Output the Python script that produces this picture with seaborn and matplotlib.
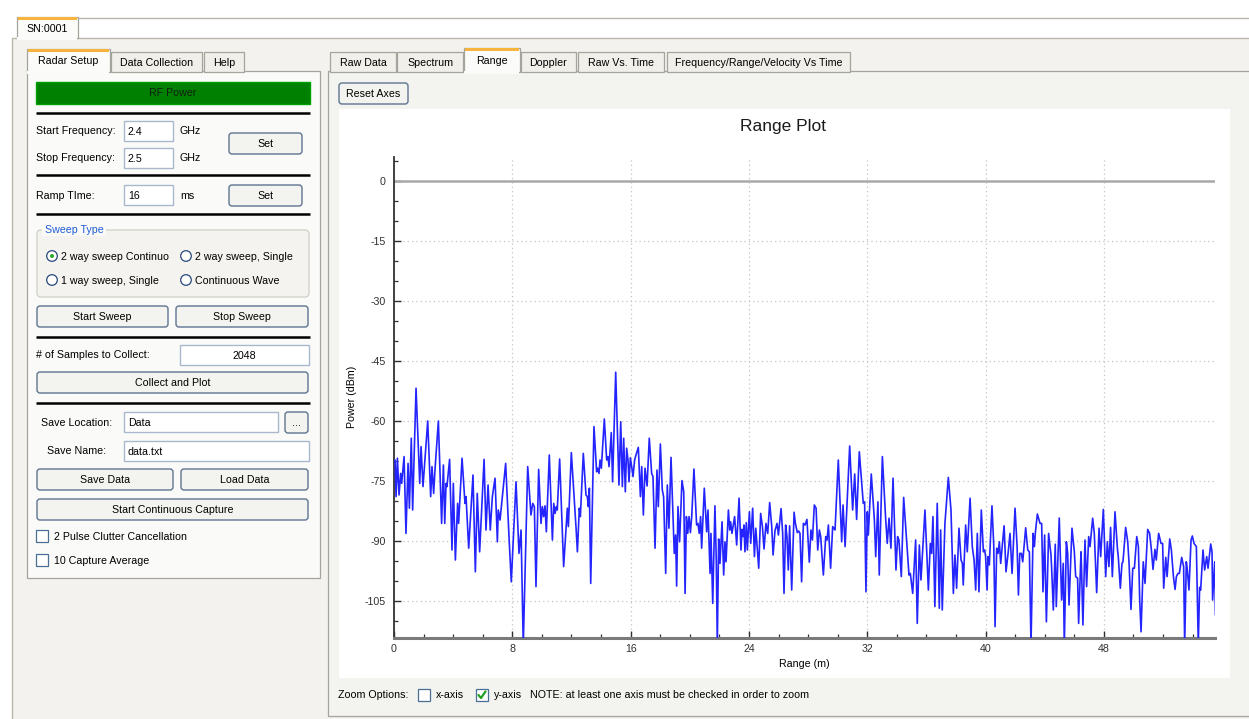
import numpy as np
import pandas as pd
import matplotlib
matplotlib.use("Agg")
import matplotlib.pyplot as plt
import seaborn as sns
from matplotlib.patches import Rectangle, FancyBboxPatch, Circle
from matplotlib.ticker import MultipleLocator

# ---------------- data ----------------
range_m = [
    0.07, 0.14, 0.23, 0.34, 0.45, 0.52, 0.68, 0.81, 0.95, 1.04, 1.17, 1.26, 1.49, 1.74, 1.83, 1.96,
    2.28, 2.48, 2.57, 2.68, 2.77, 3.00, 3.22, 3.34, 3.43, 3.52, 3.58, 3.76, 3.92, 4.01, 4.15, 4.30,
    4.37, 4.60, 4.80, 4.87, 5.05, 5.34, 5.50, 5.63, 5.79, 6.09, 6.22, 6.36, 6.51, 6.65, 6.83, 6.99,
    7.05, 7.17, 7.55, 7.78, 7.93, 8.25, 8.45, 8.59, 8.74,
    9.04, 9.26, 9.38, 9.49, 9.60, 9.78, 9.94, 10.03, 10.12, 10.21, 10.30, 10.50, 10.71, 10.80, 10.89,
    10.98, 11.04, 11.20, 11.47, 11.72, 11.79, 11.99, 12.31, 12.40, 12.53, 12.60, 12.80, 12.98, 13.07,
    13.14, 13.21, 13.30, 13.52, 13.70, 13.77, 13.86, 13.93, 14.02, 14.22, 14.38, 14.47, 14.54, 14.69,
    14.78, 14.99, 15.21, 15.33, 15.44, 15.53, 15.64, 15.73, 15.82, 15.89, 15.98, 16.07, 16.16, 16.27,
    16.36, 16.52, 16.66, 16.75, 16.86, 16.97, 17.11, 17.26, 17.42, 17.51, 17.65, 17.78, 17.87, 18.01,
    18.14, 18.23, 18.37, 18.48,
    18.59, 18.73, 18.95, 19.04, 19.11, 19.20, 19.31, 19.47, 19.59, 19.68, 19.77, 19.86, 19.95, 20.04,
    20.13, 20.28, 20.46, 20.55, 20.64, 20.73, 20.80, 20.98, 21.14, 21.23, 21.37, 21.43, 21.55, 21.70,
    21.79, 21.86, 21.95, 22.04, 22.18, 22.29, 22.38, 22.45, 22.61, 22.70, 22.76, 22.85, 23.03, 23.17,
    23.33, 23.46, 23.53, 23.60, 23.66, 23.73, 23.82, 23.89, 24.03, 24.12, 24.25, 24.37, 24.46, 24.55,
    24.66, 24.79, 24.91, 25.02, 25.15, 25.27, 25.40, 25.54, 25.63, 25.76, 25.90, 25.99, 26.17, 26.28,
    26.37, 26.48, 26.57, 26.66, 26.75, 26.89, 27.05, 27.14, 27.27, 27.36, 27.45, 27.56, 27.68, 27.79,
    27.92, 28.08,
    28.19, 28.29, 28.42, 28.54, 28.65, 28.76, 28.85, 29.03, 29.19, 29.28, 29.37, 29.52, 29.66, 29.82,
    30.04, 30.27, 30.36, 30.50, 30.81, 31.01, 31.15, 31.28, 31.46, 31.73, 31.82, 31.91, 32.00, 32.07,
    32.27, 32.48, 32.57, 32.72, 32.81, 33.02, 33.24, 33.35, 33.47, 33.60, 33.74, 33.94, 34.05, 34.14,
    34.30, 34.46, 34.82, 34.91, 35.07, 35.27, 35.38, 35.52, 35.63, 35.90, 36.13, 36.26, 36.35, 36.44,
    36.57, 36.73, 36.87, 36.96, 37.07, 37.25, 37.48,
    37.66, 37.82, 37.93, 38.04, 38.20, 38.34, 38.43, 38.49, 38.65, 38.76, 38.95, 39.10, 39.22, 39.33,
    39.44, 39.55, 39.71, 39.85, 39.94, 40.00, 40.10, 40.16, 40.25, 40.43, 40.55, 40.64, 40.75, 40.84,
    40.93, 41.02, 41.25, 41.38, 41.52, 41.65, 41.79, 41.99, 42.13, 42.22, 42.31, 42.42, 42.51, 42.71,
    42.85, 42.96, 43.07, 43.21, 43.30, 43.36, 43.50, 43.68, 43.79, 43.88, 43.99, 44.11, 44.26, 44.42,
    44.46, 44.58, 44.71, 44.78, 44.98, 45.14, 45.25, 45.32, 45.46, 45.55, 45.64, 45.84, 46.00, 46.09,
    46.22, 46.29, 46.45, 46.49, 46.58, 46.72, 46.83,
    46.97, 47.06, 47.24, 47.35, 47.51, 47.67, 47.78, 47.96, 48.12, 48.23, 48.34, 48.45, 48.57, 48.75,
    48.91, 48.97, 49.11, 49.22, 49.29, 49.47, 49.61, 49.70, 49.83, 49.95, 50.06, 50.22, 50.33, 50.42,
    50.51, 50.66, 50.78, 50.96, 51.09, 51.21, 51.32, 51.45, 51.54, 51.70, 51.86, 51.97, 52.04, 52.18,
    52.27, 52.45, 52.56, 52.70, 52.81, 52.90, 53.01, 53.10, 53.26, 53.39, 53.46, 53.57, 53.64, 53.75,
    53.89, 53.98, 54.09, 54.25, 54.38, 54.47, 54.54, 54.70, 54.81, 54.95, 55.04, 55.22, 55.31, 55.35,
    55.49, 55.54,
]
power_dbm = [
    -69.75, -78.9, -69.3, -78.5, -73.1, -75.6, -68.9, -88.1, -70.6, -81.8, -64.3, -82.25, -51.8, -75.6, -66.4, -76.4,
    -60.0, -78.9, -71.4, -78.1, -72.25, -60.0, -85.6, -71.0, -85.6, -75.6, -76.4, -69.6, -92.25, -75.6, -94.75, -80.6,
    -85.6, -69.3, -80.6, -78.9, -91.8, -73.5, -97.7, -78.1, -92.7, -69.6, -87.25, -76.0, -87.25, -78.9, -74.3, -90.2,
    -82.25, -84.75, -70.6, -89.3, -100.2, -75.2, -93.1, -87.25, -116.0,
    -71.4, -83.5, -80.6, -81.4, -101.4, -72.1, -85.6, -81.4, -83.9, -81.2, -87.7, -68.5, -89.75, -80.6, -83.1,
    -81.4, -82.25, -69.5, -96.4, -81.8, -86.4, -67.9, -86.8, -92.7, -81.8, -83.9, -68.1, -78.5, -78.9,
    -81.4, -76.8, -100.6, -61.4, -72.7, -71.8, -73.1, -69.75, -71.8, -59.5, -69.75, -68.9, -71.4, -62.9,
    -75.2, -47.8, -76.0, -60.2, -76.4, -64.3, -77.7, -66.8, -69.75, -75.2, -69.2, -71.4, -73.9, -69.75,
    -68.5, -66.6, -78.9, -71.4, -83.5, -71.8, -76.25, -64.3, -73.1, -73.9, -91.8, -72.25, -81.4, -65.75,
    -77.25, -78.9, -98.1, -76.0,
    -86.8, -69.1, -93.1, -88.5, -101.25, -81.4, -90.2, -74.9, -77.7, -103.1, -83.9, -88.1, -83.9, -87.9,
    -83.9, -72.0, -86.0, -85.6, -88.1, -83.9, -91.8, -76.8, -87.7, -82.25, -98.1, -88.1, -105.6, -81.2,
    -94.75, -116.0, -89.5, -95.6, -85.2, -98.5, -90.2, -95.2, -82.25, -87.25, -85.2, -88.1, -83.9, -91.0,
    -79.3, -92.25, -87.1, -88.9, -86.0, -92.7, -85.4, -92.25, -82.7, -90.6, -81.8, -93.9, -86.8, -91.4,
    -96.8, -83.1, -86.4, -92.0, -85.6, -88.1, -80.4, -86.4, -93.5, -87.4, -85.6, -88.5, -81.9, -88.1,
    -103.1, -86.0, -88.9, -97.25, -86.2, -102.25, -82.8, -85.6, -87.9, -87.5, -88.1, -100.2, -85.6, -86.0,
    -84.6, -95.3,
    -87.25, -89.75, -81.0, -81.8, -92.25, -87.25, -88.9, -98.5, -88.9, -89.75, -86.0, -96.8, -86.4, -87.25,
    -69.75, -90.2, -81.0, -91.4, -66.25, -82.25, -73.25, -84.6, -67.7, -80.6, -80.2, -102.7, -82.7, -88.5,
    -73.25, -84.75, -93.9, -80.2, -98.5, -68.9, -84.3, -90.6, -84.3, -91.8, -74.3, -97.25, -88.9, -89.75,
    -98.9, -79.1, -98.5, -98.1, -103.1, -89.75, -110.6, -91.0, -99.75, -82.25, -102.25, -90.6, -93.1, -83.9,
    -106.4, -80.6, -106.8, -87.25, -107.25, -85.6, -74.1,
    -82.25, -103.1, -93.5, -101.8, -86.8, -94.75, -95.6, -101.0, -86.0, -92.7, -79.3, -91.4, -94.75, -102.25,
    -88.1, -102.7, -82.25, -92.7, -92.25, -93.9, -102.25, -93.9, -96.0, -81.2, -91.0, -111.4, -91.8, -93.1,
    -90.2, -95.6, -86.2, -97.7, -93.1, -88.1, -98.1, -81.8, -91.4, -103.5, -93.1, -93.1, -95.2, -86.7,
    -92.25, -92.7, -116.0, -88.1, -91.4, -88.1, -83.25, -85.6, -85.6, -102.7, -88.5, -110.2, -88.1, -93.5,
    -96.4, -107.25, -90.8, -106.4, -84.25, -104.75, -95.6, -116.0, -90.2, -93.1, -106.0, -86.8, -92.7, -98.9,
    -99.3, -110.6, -92.7, -97.25, -111.0, -89.75, -101.4,
    -88.9, -91.4, -84.3, -88.1, -102.9, -86.8, -93.9, -82.1, -98.9, -90.2, -96.4, -86.6, -98.9, -82.7,
    -91.8, -93.9, -101.8, -95.6, -95.2, -86.6, -90.2, -95.6, -107.1, -96.8, -96.8, -88.9, -91.4, -104.75,
    -112.7, -95.2, -100.6, -87.1, -88.1, -92.25, -97.1, -92.1, -94.75, -88.1, -90.6, -90.6, -101.8, -94.1,
    -98.9, -89.5, -92.25, -98.9, -102.1, -98.9, -98.1, -98.1, -94.1, -96.4, -116.0, -95.2, -97.25, -102.25,
    -89.75, -88.75, -90.6, -91.4, -116.0, -101.6, -102.25, -92.25, -97.25, -93.9, -96.8, -90.75, -92.7, -104.75,
    -95.2, -108.5,
]
x_ticks = [0, 8, 16, 24, 32, 40, 48]
y_ticks = [0, -15, -30, -45, -60, -75, -90, -105]

df = pd.DataFrame({"Range (m)": range_m, "Power (dBm)": power_dbm})

# ---------------- figure ----------------
sns.set_theme(style="white")
plt.rcParams['font.family'] = ['Liberation Sans', 'DejaVu Sans']
plt.rcParams['axes.unicode_minus'] = False

W, H = 1249, 719
fig = plt.figure(figsize=(W / 100, H / 100), dpi=100, facecolor='#FFFFFF')
bg = fig.add_axes([0, 0, 1, 1])
bg.set_xlim(0, W)
bg.set_ylim(H, 0)
bg.axis('off')

FS = 7.7
TXT = '#000000'


def rect(x0, y0, x1, y1, fc, ec='none', lw=1.0, z=1):
    bg.add_patch(Rectangle((x0, y0), x1 - x0, y1 - y0, fc=fc, ec=ec, lw=lw, zorder=z))


def label(x, y, s, ha='left', color=TXT, fs=FS, z=5, **kw):
    bg.text(x, y, s, ha=ha, va='center', color=color, fontsize=fs, zorder=z, **kw)


def button(x0, y0, x1, y1, s):
    bg.add_patch(FancyBboxPatch((x0, y0), x1 - x0, y1 - y0,
                                boxstyle='round,pad=0,rounding_size=3',
                                fc='#F3F3EF', ec='#5E7491', lw=1.0, zorder=3))
    label((x0 + x1) / 2, (y0 + y1) / 2 + 0.5, s, ha='center')


def entry(x0, y0, x1, y1, s, ha='left'):
    rect(x0, y0, x1, y1, '#FFFFFF', '#A9B8CC', 1.0, z=3)
    if ha == 'left':
        label(x0 + 4, (y0 + y1) / 2 + 1, s)
    else:
        label((x0 + x1) / 2, (y0 + y1) / 2 + 1, s, ha='center')


def tab(x0, x1, y0, y1, s, selected=False):
    fc = '#FBFBF9' if selected else '#F0EFEA'
    rect(x0, y0, x1, y1, fc, '#A5A49C', 0.9, z=2)
    if selected:
        rect(x0 + 1, y0, x1 - 1, y0 + 2.5, '#F6B33D', z=3)
        rect(x0 + 0.5, y1 - 1.5, x1 - 0.5, y1 + 1.5, fc, z=3)
    label((x0 + x1) / 2, (y0 + y1) / 2 + 1, s, ha='center')


def hline(x0, x1, y, color='#000000', lw=1.8):
    bg.plot([x0, x1], [y, y], color=color, lw=lw, zorder=3, solid_capstyle='butt')


def radio(x, y, s, on=False):
    bg.add_patch(Circle((x, y), 5.3, fc='#FFFFFF', ec='#28477A', lw=0.9, zorder=3))
    if on:
        bg.add_patch(Circle((x, y), 2.0, fc='#2DA52D', ec='none', zorder=4))
    label(x + 9, y + 0.5, s)


def checkbox(x, y, s, on=False):
    rect(x, y - 6, x + 12, y + 6, '#FFFFFF', '#4A6F96', 0.9, z=3)
    if on:
        bg.plot([x + 2.5, x + 5, x + 9.5], [y, y + 3, y - 3.5], color='#21A121', lw=1.6, zorder=4)
    label(x + 18, y + 0.5, s)


# outer body
hline(78, W, 17.5, color='#B9B7AC', lw=1.0)
rect(12, 38, W + 5, H + 5, '#F3F2EE', '#B9B7AC', 1.0, z=1)
tab(17, 78, 17, 38, 'SN:0001', selected=True)

# left panel
rect(27, 71, 320, 578, '#FAFAF8', '#A5A49C', 0.9, z=1.5)
tab(111, 202, 52, 72, 'Data Collection')
tab(204, 244, 52, 72, 'Help')
tab(27, 110, 49, 72, 'Radar Setup', selected=True)

rect(36, 82, 310, 104, '#008000', '#00A000', 1.0, z=3)
label(173, 93.5, 'RF Power', ha='center', color='#102010')
hline(36, 310, 113)

label(36, 131, 'Start Frequency:')
entry(124, 121, 173, 141, '2.4')
label(180, 131, 'GHz')
label(36, 158, 'Stop Frequency:')
entry(124, 148, 173, 168, '2.5')
label(180, 158, 'GHz')
button(229, 133, 302, 154, 'Set')
hline(36, 310, 175)

label(36, 196, 'Ramp TIme:')
entry(124, 185, 173, 205, '16')
label(180, 196, 'ms')
button(229, 185, 302, 206, 'Set')
hline(36, 310, 214)

bg.add_patch(FancyBboxPatch((37, 230), 272, 67, boxstyle='round,pad=0,rounding_size=4',
                            fc='#F4F3EF', ec='#D0CFC6', lw=0.9, zorder=2))
rect(42, 224, 106, 236, '#FAFAF8', z=2.5)
label(45, 230, 'Sweep Type', color='#1E5BD6')
radio(52, 256, '2 way sweep Continuo', on=True)
radio(186, 256, '2 way sweep, Single')
radio(52, 280, '1 way sweep, Single')
radio(186, 280, 'Continuous Wave')

button(37, 306, 168, 327, 'Start Sweep')
button(176, 306, 308, 327, 'Stop Sweep')
hline(36, 310, 337)

label(36, 355, '# of Samples to Collect:')
entry(180, 345, 309, 365, '2048', ha='center')
button(37, 372, 308, 393, 'Collect and Plot')
hline(36, 310, 403)

label(41, 423, 'Save Location:')
entry(124, 412, 278, 432, 'Data')
button(285, 412, 308, 433, '...')
label(47, 451, 'Save Name:')
entry(124, 441, 309, 461, 'data.txt')
button(37, 469, 173, 490, 'Save Data')
button(181, 469, 308, 490, 'Load Data')
button(37, 499, 308, 520, 'Start Continuous Capture')
checkbox(36, 536, '2 Pulse Clutter Cancellation')
checkbox(36, 560, '10 Capture Average')

# right panel
rect(328, 71, W + 5, 716, '#F3F3F0', '#A5A49C', 0.9, z=1.5)
tab(330, 396, 52, 72, 'Raw Data')
tab(397, 463, 52, 72, 'Spectrum')
tab(521, 576, 52, 72, 'Doppler')
tab(578, 664, 52, 72, 'Raw Vs. Time')
tab(667, 850, 52, 72, 'Frequency/Range/Velocity Vs Time')
tab(464, 520, 48, 72, 'Range', selected=True)
button(339, 83, 408, 104, 'Reset Axes')
rect(339, 109, 1230, 678, '#FFFFFF', z=2)

label(338, 695, 'Zoom Options:')
checkbox(418, 695, 'x-axis')
checkbox(476, 695, 'y-axis', on=True)
label(530, 695, 'NOTE: at least one axis must be checked in order to zoom')

# plot texts
label(783, 127, 'Range Plot', ha='center', fs=12.5, color='#1a1a1a')
label(352, 397, 'Power (dBm)', ha='center', rotation=90, fs=FS)
label(804, 664, 'Range (m)', ha='center', fs=FS)

# ---------------- the chart ----------------
x0px, x1px, y0px, y1px = 394, 1215, 157, 638
ax = fig.add_axes([x0px / W, (H - y1px) / H, (x1px - x0px) / W, (y1px - y0px) / H])
ax.set_facecolor('#FFFFFF')
ax.set_zorder(3)

ax.axhline(0, color='#A9A9A9', lw=1.8, zorder=1)
sns.lineplot(data=df, x="Range (m)", y="Power (dBm)", ax=ax, color='#2424FF',
             lw=1.2, sort=False, estimator=None, zorder=3)

ax.set_xlim(0, (x1px - x0px) / 14.79)
ax.set_ylim(-(y1px - 181) / 4.0, (181 - y0px) / 4.0)
ax.set_xticks(x_ticks)
ax.set_yticks(y_ticks)
ax.xaxis.set_minor_locator(MultipleLocator(2))
ax.yaxis.set_minor_locator(MultipleLocator(5))
ax.grid(True, which='major', ls=(0, (1, 2.5)), color='#C4C4C4', lw=0.9, zorder=0)
ax.set_xlabel('')
ax.set_ylabel('')
ax.tick_params(axis='both', which='major', direction='in', length=5, width=1.0,
               color='#303030', labelsize=FS, labelcolor='#303030', pad=6,
               bottom=True, left=True)
ax.tick_params(axis='both', which='minor', direction='in', length=3, width=0.9,
               color='#303030', bottom=True, left=True)
ax.tick_params(axis='x', pad=4)
for side in ['top', 'right']:
    ax.spines[side].set_visible(False)
ax.spines['left'].set_color('#333333')
ax.spines['left'].set_linewidth(1.3)
ax.spines['bottom'].set_color('#7A7A7A')
ax.spines['bottom'].set_linewidth(2.2)

fig.savefig('out.png', dpi=100, facecolor=fig.get_facecolor())
